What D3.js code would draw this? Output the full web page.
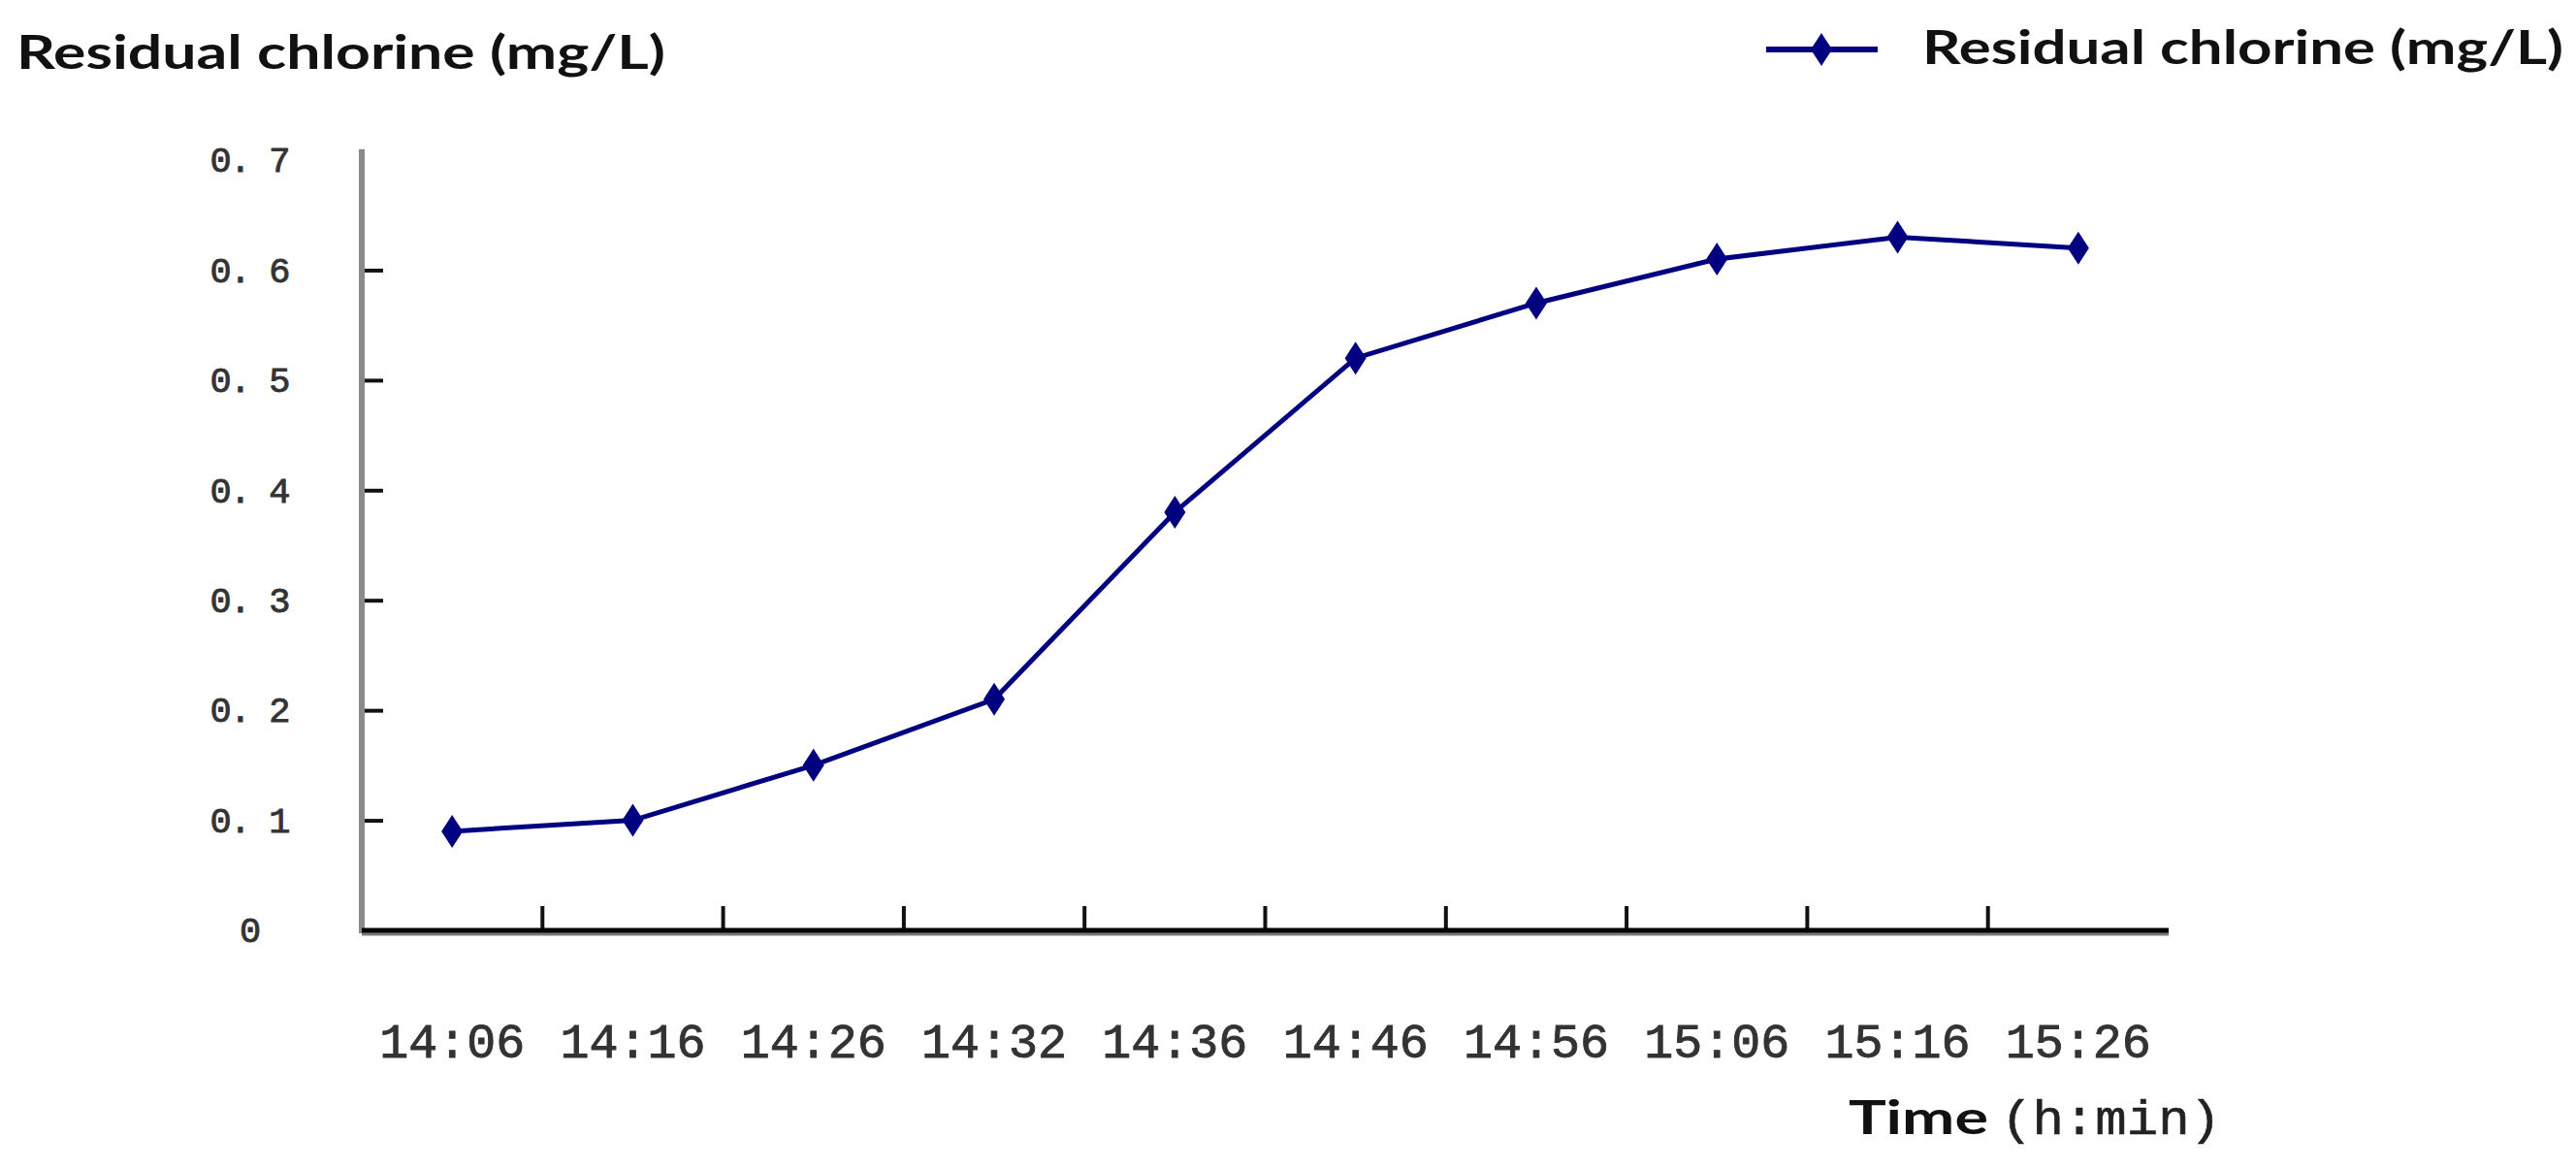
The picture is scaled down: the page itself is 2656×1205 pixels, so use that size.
<!DOCTYPE html>
<html>
<head>
<meta charset="utf-8">
<script src="https://cdn.jsdelivr.net/npm/d3@7"></script>
<style>
  html, body { margin: 0; padding: 0; background: #fff; }
  svg { display: block; }
</style>
</head>
<body>
<script>
// ---- data ----
const categories = ["14:06","14:16","14:26","14:32","14:36","14:46","14:56","15:06","15:16","15:26"];
const chlorine = [0.09, 0.10, 0.15, 0.21, 0.38, 0.52, 0.57, 0.61, 0.63, 0.62];
const yTickValues = [0, 0.1, 0.2, 0.3, 0.4, 0.5, 0.6, 0.7];
const yTickLabels = ["0", "0. 1", "0. 2", "0. 3", "0. 4", "0. 5", "0. 6", "0. 7"];
const seriesName = "Residual chlorine (mg/L)";
const yTitle = "Residual chlorine (mg/L)";
const xTitleBold = "Time";
const xTitleRest = "(h:min)";

// ---- layout ----
const W = 2656, H = 1205;
const plot = { left: 373, right: 2236, top: 165, bottom: 959 };
const lineColor = "#000080";

const svg = d3.select("body").append("svg").attr("width", W).attr("height", H);
svg.append("rect").attr("width", W).attr("height", H).attr("fill", "#fff");

const x = d3.scaleBand().domain(categories).range([plot.left, plot.right]).padding(0);
const y = d3.scaleLinear().domain([0, 0.7]).range([plot.bottom, plot.top]);

// y axis (ticks inside, labels centered to the left)
const yAxis = d3.axisLeft(y)
  .tickValues(yTickValues)
  .tickFormat((d, i) => yTickLabels[i])
  .tickSizeInner(-22).tickSizeOuter(0).tickPadding(116);
const gy = svg.append("g").attr("transform", `translate(${plot.left},0)`).call(yAxis);
gy.select(".domain").remove();
gy.selectAll(".tick line").attr("stroke", "#111").attr("stroke-width", 4)
  .attr("opacity", (d) => (d === 0 || d === 0.7) ? 0 : 1);
gy.selectAll(".tick text")
  .attr("text-anchor", "middle")
  .attr("font-family", "'Liberation Mono', monospace")
  .attr("font-size", 37).attr("letter-spacing", -2)
  .attr("fill", "#333").attr("stroke", "#333").attr("stroke-width", 0.9);
svg.append("line")
  .attr("x1", plot.left).attr("x2", plot.left)
  .attr("y1", y(0.71)).attr("y2", plot.bottom + 3)
  .attr("stroke", "#8a8a8a").attr("stroke-width", 6);

// x axis: labels centered in bands, tick marks at band boundaries
const xAxis = d3.axisBottom(x).tickSize(0).tickPadding(95);
const gx = svg.append("g").attr("transform", `translate(0,${plot.bottom})`).call(xAxis);
gx.select(".domain").remove();
gx.selectAll(".tick text")
  .attr("font-family", "'Liberation Mono', monospace")
  .attr("font-size", 50).attr("fill", "#333")
  .attr("stroke", "#333").attr("stroke-width", 0.9);
svg.append("g").selectAll("line")
  .data(categories.slice(1))
  .join("line")
  .attr("x1", (d) => x(d)).attr("x2", (d) => x(d))
  .attr("y1", plot.bottom).attr("y2", plot.bottom - 25)
  .attr("stroke", "#111").attr("stroke-width", 4);
svg.append("line")
  .attr("x1", plot.left).attr("x2", plot.right)
  .attr("y1", plot.bottom + 2).attr("y2", plot.bottom + 2)
  .attr("stroke", "#7a7a7a").attr("stroke-width", 7);
svg.append("line")
  .attr("x1", plot.left).attr("x2", plot.right)
  .attr("y1", plot.bottom).attr("y2", plot.bottom)
  .attr("stroke", "#000").attr("stroke-width", 5);

// series line
const line = d3.line()
  .x((d, i) => x(categories[i]) + x.bandwidth() / 2)
  .y((d) => y(d));
svg.append("path").datum(chlorine)
  .attr("d", line).attr("fill", "none")
  .attr("stroke", lineColor).attr("stroke-width", 5);
// diamond marker: wider than d3's default diamond
const diamondPath = "M0,-17L11,0L0,17L-11,0Z";
svg.append("g").selectAll("path")
  .data(chlorine)
  .join("path")
  .attr("d", diamondPath)
  .attr("transform", (d, i) => `translate(${x(categories[i]) + x.bandwidth() / 2},${y(d)})`)
  .attr("fill", lineColor);

// y title
svg.append("text")
  .attr("x", 17).attr("y", 71)
  .attr("font-family", "Lato, 'Open Sans', sans-serif").attr("font-weight", 700)
  .attr("font-size", 48).attr("fill", "#111")
  .attr("textLength", 669).attr("lengthAdjust", "spacingAndGlyphs")
  .text(yTitle);

// legend
const legY = 51;
svg.append("line")
  .attr("x1", 1821).attr("x2", 1936).attr("y1", legY).attr("y2", legY)
  .attr("stroke", lineColor).attr("stroke-width", 6);
svg.append("path").attr("d", diamondPath)
  .attr("transform", `translate(1878,${legY})`).attr("fill", lineColor);
svg.append("text")
  .attr("x", 1982).attr("y", 66)
  .attr("font-family", "Lato, 'Open Sans', sans-serif").attr("font-weight", 700)
  .attr("font-size", 48).attr("fill", "#111")
  .attr("textLength", 661).attr("lengthAdjust", "spacingAndGlyphs")
  .text(seriesName);

// x title
svg.append("text")
  .attr("x", 1906).attr("y", 1169)
  .attr("font-family", "Lato, 'Open Sans', sans-serif").attr("font-weight", 700)
  .attr("font-size", 48).attr("fill", "#111")
  .attr("textLength", 144).attr("lengthAdjust", "spacingAndGlyphs")
  .text(xTitleBold);
svg.append("text")
  .attr("x", 2063).attr("y", 1169)
  .attr("font-family", "'Liberation Mono', monospace")
  .attr("font-size", 50).attr("fill", "#222")
  .attr("stroke", "#222").attr("stroke-width", 0.6)
  .attr("textLength", 227).attr("lengthAdjust", "spacingAndGlyphs")
  .text(xTitleRest);
</script>
</body>
</html>
